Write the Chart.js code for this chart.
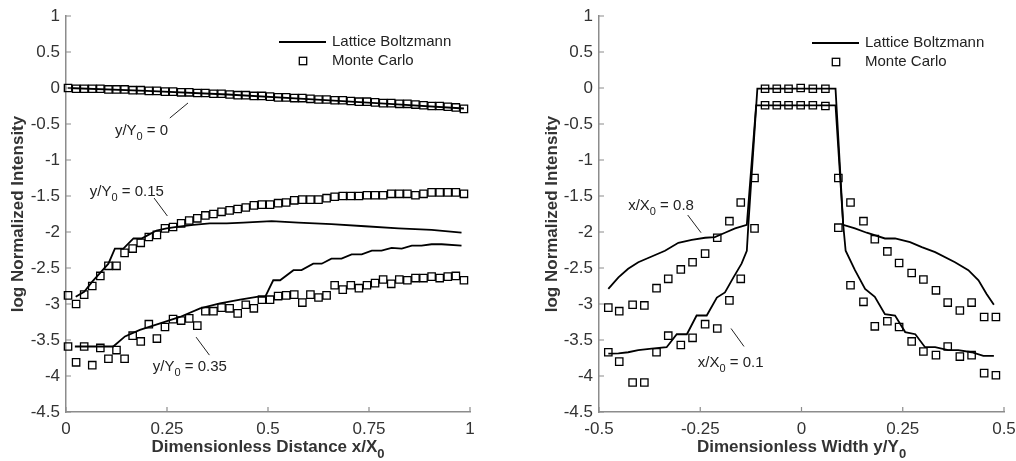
<!DOCTYPE html>
<html>
<head>
<meta charset="utf-8">
<script src="https://cdn.jsdelivr.net/npm/chart.js@4"></script>
<style>
  body { margin: 0; background: #fff; }
  .pane { position: absolute; top: 0; width: 508px; height: 461px; }
</style>
</head>
<body>
<div class="pane" style="left:0"><canvas id="c-dist" width="508" height="461"></canvas></div>
<div class="pane" style="left:508px"><canvas id="c-width" width="508" height="461"></canvas></div>
<script>
// ---- left panel: intensity along x/X0 ----
const xDist = [0.005,0.025,0.045,0.065,0.085,0.105,0.125,0.145,0.165,0.185,
  0.205,0.225,0.245,0.265,0.285,0.305,0.325,0.345,0.365,0.385,
  0.405,0.425,0.445,0.465,0.485,0.505,0.525,0.545,0.565,0.585,
  0.605,0.625,0.645,0.665,0.685,0.705,0.725,0.745,0.765,0.785,
  0.805,0.825,0.845,0.865,0.885,0.905,0.925,0.945,0.965,0.985];
const mcY00 = [0.00,-0.01,-0.01,-0.01,-0.01,-0.02,-0.02,-0.02,-0.03,-0.03,
  -0.04,-0.04,-0.05,-0.05,-0.06,-0.06,-0.07,-0.07,-0.08,-0.08,
  -0.09,-0.10,-0.10,-0.11,-0.11,-0.12,-0.13,-0.13,-0.14,-0.14,
  -0.15,-0.16,-0.16,-0.17,-0.17,-0.18,-0.19,-0.19,-0.20,-0.21,
  -0.21,-0.22,-0.22,-0.23,-0.24,-0.25,-0.25,-0.26,-0.27,-0.29];
const mcY15 = [-2.88,-3.00,-2.87,-2.75,-2.61,-2.47,-2.47,-2.29,-2.23,-2.15,
  -2.07,-2.04,-1.95,-1.93,-1.88,-1.84,-1.81,-1.77,-1.75,-1.72,
  -1.70,-1.68,-1.66,-1.63,-1.62,-1.62,-1.60,-1.59,-1.56,-1.55,
  -1.55,-1.55,-1.53,-1.51,-1.50,-1.50,-1.50,-1.49,-1.49,-1.49,
  -1.47,-1.47,-1.47,-1.49,-1.47,-1.45,-1.45,-1.45,-1.45,-1.47];
const mcY35 = [-3.59,-3.81,-3.59,-3.85,-3.61,-3.76,-3.64,-3.76,-3.44,-3.52,
  -3.28,-3.48,-3.32,-3.21,-3.23,-3.20,-3.30,-3.10,-3.10,-3.05,
  -3.06,-3.13,-3.01,-3.06,-2.94,-2.94,-2.89,-2.88,-2.87,-2.98,
  -2.87,-2.91,-2.88,-2.74,-2.80,-2.74,-2.78,-2.74,-2.71,-2.66,
  -2.72,-2.66,-2.67,-2.64,-2.64,-2.62,-2.64,-2.62,-2.61,-2.67];

const lbX00 = [0.005,0.2,0.4,0.6,0.8,0.985];
const lbY00 = [0.0,-0.04,-0.09,-0.155,-0.22,-0.285];
const lbX15 = [0.024,0.045,0.065,0.084,0.105,0.121,0.142,0.167,0.187,0.204,0.224,0.249,
  0.274,0.315,0.356,0.398,0.439,0.509,0.575,0.657,0.74,0.823,0.905,0.979];
const lbY15 = [-2.9,-2.83,-2.69,-2.57,-2.44,-2.23,-2.23,-2.09,-2.09,-2.04,-1.98,-1.95,
  -1.93,-1.90,-1.88,-1.88,-1.87,-1.85,-1.87,-1.89,-1.92,-1.95,-1.97,-2.01];
const lbX35 = [0.022,0.117,0.146,0.183,0.233,0.282,0.332,0.381,0.431,0.472,0.493,0.513,
  0.53,0.563,0.583,0.612,0.633,0.657,0.682,0.707,0.732,0.757,0.781,0.806,0.831,0.856,
  0.88,0.905,0.93,0.979];
const lbY35 = [-3.59,-3.59,-3.45,-3.36,-3.27,-3.18,-3.06,-2.99,-2.94,-2.90,-2.90,-2.67,
  -2.67,-2.53,-2.53,-2.44,-2.44,-2.37,-2.37,-2.31,-2.31,-2.26,-2.26,-2.22,-2.23,-2.19,
  -2.19,-2.17,-2.17,-2.19];

// ---- right panel: intensity across y/Y0 ----
const xWidth = [-0.477,-0.45,-0.417,-0.388,-0.358,-0.329,-0.298,-0.269,-0.238,-0.208,
  -0.178,-0.15,-0.116,-0.09,-0.061,-0.032,-0.002,0.028,0.059,0.091,0.121,0.153,0.181,
  0.212,0.241,0.272,0.301,0.332,0.361,0.391,0.42,0.451,0.48];
const mcX08 = [-3.05,-3.10,-3.01,-3.02,-2.78,-2.65,-2.52,-2.42,-2.30,-2.08,-1.85,-1.59,-1.25,
  -0.24,-0.24,-0.24,-0.24,-0.24,-0.25,
  -1.25,-1.59,-1.85,-2.10,-2.27,-2.43,-2.57,-2.66,-2.81,-2.98,-3.09,-2.98,-3.18,-3.18];
const mcX01 = [-3.67,-3.80,-4.09,-4.09,-3.67,-3.44,-3.57,-3.47,-3.28,-3.34,-2.95,-2.65,-1.95,
  -0.01,-0.01,-0.01,0.0,-0.01,-0.01,
  -1.94,-2.74,-2.97,-3.31,-3.24,-3.32,-3.52,-3.66,-3.71,-3.59,-3.73,-3.71,-3.96,-3.99];

const lbWX08 = [-0.477,-0.452,-0.428,-0.403,-0.37,-0.337,-0.304,-0.271,-0.238,-0.214,-0.189,
  -0.164,-0.135,-0.112,0.084,0.103,0.132,0.161,0.206,0.231,0.268,0.297,0.33,0.379,0.412,
  0.437,0.457,0.475];
const lbWY08 = [-2.79,-2.63,-2.51,-2.42,-2.34,-2.26,-2.15,-2.11,-2.08,-2.07,-2.01,
  -1.95,-1.90,-0.24,-0.24,-1.90,-1.95,-2.01,-2.09,-2.09,-2.14,-2.21,-2.28,-2.42,-2.53,
  -2.67,-2.86,-3.01];
const lbWX01 = [-0.477,-0.452,-0.428,-0.403,-0.37,-0.333,-0.308,-0.283,-0.259,-0.234,-0.209,
  -0.189,-0.168,-0.148,-0.135,-0.131,-0.109,0.084,0.103,0.109,0.132,0.157,0.181,0.206,
  0.231,0.256,0.281,0.305,0.33,0.362,0.387,0.42,0.449,0.475];
const lbWY01 = [-3.69,-3.685,-3.67,-3.64,-3.62,-3.60,-3.42,-3.42,-3.16,-3.16,-2.91,
  -2.84,-2.63,-2.44,-2.26,-1.88,-0.01,-0.01,-1.90,-2.26,-2.53,-2.79,-2.90,-3.14,
  -3.16,-3.39,-3.42,-3.60,-3.60,-3.64,-3.64,-3.67,-3.72,-3.72];

const FONT = '"Liberation Sans", Arial, Helvetica, sans-serif';
const AXIS = '#8c8c8c';
const INK = '#333';

const pts = (xs, ys) => xs.map((x, i) => ({ x, y: ys[i] }));
const lineSet = (xs, ys) => ({ data: pts(xs, ys), showLine: true, borderColor: '#000',
  borderWidth: 1.8, pointRadius: 0, tension: 0, clip: false });
const boxSet = (xs, ys) => ({ data: pts(xs, ys), showLine: false, pointStyle: 'rect',
  pointRadius: 5.2, pointBorderWidth: 1.3, pointBorderColor: '#000',
  pointBackgroundColor: 'rgba(0,0,0,0)', clip: false });

// 'x/X_0' -> [['x/X',false],['0',true]]
function parts(s) {
  return s.split(/_(.)/).map((t, i) => [t, i % 2 === 1]).filter(p => p[0]);
}
function subText(ctx, s, x, y, size, bold, align) {
  const sub = Math.round(size * 0.75);
  const f = sz => `${bold ? 'bold ' : ''}${sz}px ${FONT}`;
  const ps = parts(s);
  let w = 0;
  ps.forEach(([t, isSub]) => { ctx.font = f(isSub ? sub : size); w += ctx.measureText(t).width; });
  let cx = align === 'center' ? x - w / 2 : x;
  ctx.textAlign = 'left'; ctx.textBaseline = 'middle';
  ps.forEach(([t, isSub]) => {
    ctx.font = f(isSub ? sub : size);
    ctx.fillText(t, cx, y + (isSub ? size * 0.42 : 0));
    cx += ctx.measureText(t).width;
  });
}

function decor(cfg) {
  return {
    id: 'decor',
    afterDraw(chart) {
      const { ctx, chartArea: a, scales: { x, y } } = chart;
      ctx.save();
      // inward tick marks
      ctx.strokeStyle = AXIS; ctx.lineWidth = 1.2;
      ctx.beginPath();
      x.ticks.forEach(t => { const p = x.getPixelForValue(t.value); ctx.moveTo(p, a.bottom); ctx.lineTo(p, a.bottom - 5); });
      y.ticks.forEach(t => { const p = y.getPixelForValue(t.value); ctx.moveTo(a.left, p); ctx.lineTo(a.left + 5, p); });
      ctx.stroke();

      // axis titles
      ctx.fillStyle = INK;
      subText(ctx, cfg.xTitle, (a.left + a.right) / 2, 447, 17, true, 'center');
      ctx.save();
      ctx.translate(cfg.yTitleX, (a.top + a.bottom) / 2);
      ctx.rotate(-Math.PI / 2);
      subText(ctx, 'log Normalized Intensity', 0, 0, 17, true, 'center');
      ctx.restore();

      // curve labels with leader lines
      ctx.fillStyle = '#222'; ctx.strokeStyle = '#222'; ctx.lineWidth = 1;
      cfg.notes.forEach(n => {
        subText(ctx, n.text, x.getPixelForValue(n.at[0]), y.getPixelForValue(n.at[1]), 15, false, 'left');
        ctx.beginPath();
        ctx.moveTo(x.getPixelForValue(n.lead[0][0]), y.getPixelForValue(n.lead[0][1]));
        ctx.lineTo(x.getPixelForValue(n.lead[1][0]), y.getPixelForValue(n.lead[1][1]));
        ctx.stroke();
      });

      // legend
      const L = cfg.legend;
      ctx.strokeStyle = '#000'; ctx.lineWidth = 1.8;
      ctx.beginPath(); ctx.moveTo(L.x, L.y); ctx.lineTo(L.x + 47, L.y); ctx.stroke();
      ctx.lineWidth = 1.3;
      ctx.strokeRect(L.x + 20.3, L.y + 15.3, 7.4, 7.4);
      ctx.fillStyle = '#222';
      ctx.font = `15px ${FONT}`; ctx.textAlign = 'left'; ctx.textBaseline = 'middle';
      ctx.fillText('Lattice Boltzmann', L.x + 53, L.y);
      ctx.fillText('Monte Carlo', L.x + 53, L.y + 19);
      ctx.restore();
    }
  };
}

// plain labels: 1, 0.5, 0.25, -4.5
const tickLabel = v => String(Math.round(v * 100) / 100);

function axes(xMin, xMax, yWidth) {
  const tickFont = { family: FONT, size: 17 };
  return {
    x: { type: 'linear', min: xMin, max: xMax,
      ticks: { stepSize: 0.25, color: INK, font: tickFont, padding: 7, maxRotation: 0,
        autoSkip: false, callback: tickLabel },
      grid: { drawOnChartArea: false, drawTicks: false },
      border: { display: true, color: AXIS, width: 1.5 },
      afterFit(s) { s.height = 49; s.paddingLeft = 0; s.paddingRight = 0; } },
    y: { type: 'linear', min: -4.5, max: 1,
      ticks: { stepSize: 0.5, color: INK, font: tickFont, padding: 6, autoSkip: false,
        callback: tickLabel },
      grid: { drawOnChartArea: false, drawTicks: false },
      border: { display: true, color: AXIS, width: 1.5 },
      afterFit(s) { s.width = yWidth; s.paddingTop = 0; s.paddingBottom = 0; } },
  };
}

function makeChart(id, datasets, scales, padRight, cfg) {
  return new Chart(document.getElementById(id), {
    type: 'scatter',
    data: { datasets },
    options: {
      responsive: false, animation: false, devicePixelRatio: 1,
      layout: { padding: { top: 16, right: padRight, bottom: 0, left: 0 } },
      plugins: { legend: { display: false }, tooltip: { enabled: false } },
      scales,
    },
    plugins: [decor(cfg)],
  });
}

makeChart('c-dist', [
  lineSet(lbX00, lbY00), lineSet(lbX15, lbY15), lineSet(lbX35, lbY35),
  boxSet(xDist, mcY00), boxSet(xDist, mcY15), boxSet(xDist, mcY35),
], axes(0, 1, 66), 38, {
  xTitle: 'Dimensionless Distance x/X_0', yTitleX: 18,
  legend: { x: 279, y: 42 },
  notes: [
    { text: 'y/Y_0 = 0', at: [0.121, -0.597], lead: [[0.257, -0.417], [0.302, -0.208]] },
    { text: 'y/Y_0 = 0.15', at: [0.059, -1.444], lead: [[0.218, -1.528], [0.251, -1.778]] },
    { text: 'y/Y_0 = 0.35', at: [0.215, -3.875], lead: [[0.322, -3.46], [0.355, -3.71]] },
  ],
});

makeChart('c-width', [
  lineSet(lbWX08, lbWY08), lineSet(lbWX01, lbWY01),
  boxSet(xWidth, mcX08), boxSet(xWidth, mcX01),
], axes(-0.5, 0.5, 91), 12, {
  xTitle: 'Dimensionless Width y/Y_0', yTitleX: 44,
  legend: { x: 304, y: 43 },
  notes: [
    { text: 'x/X_0 = 0.8', at: [-0.428, -1.639], lead: [[-0.281, -1.764], [-0.248, -2.01]] },
    { text: 'x/X_0 = 0.1', at: [-0.256, -3.815], lead: [[-0.174, -3.34], [-0.142, -3.59]] },
  ],
});
</script>
</body>
</html>
